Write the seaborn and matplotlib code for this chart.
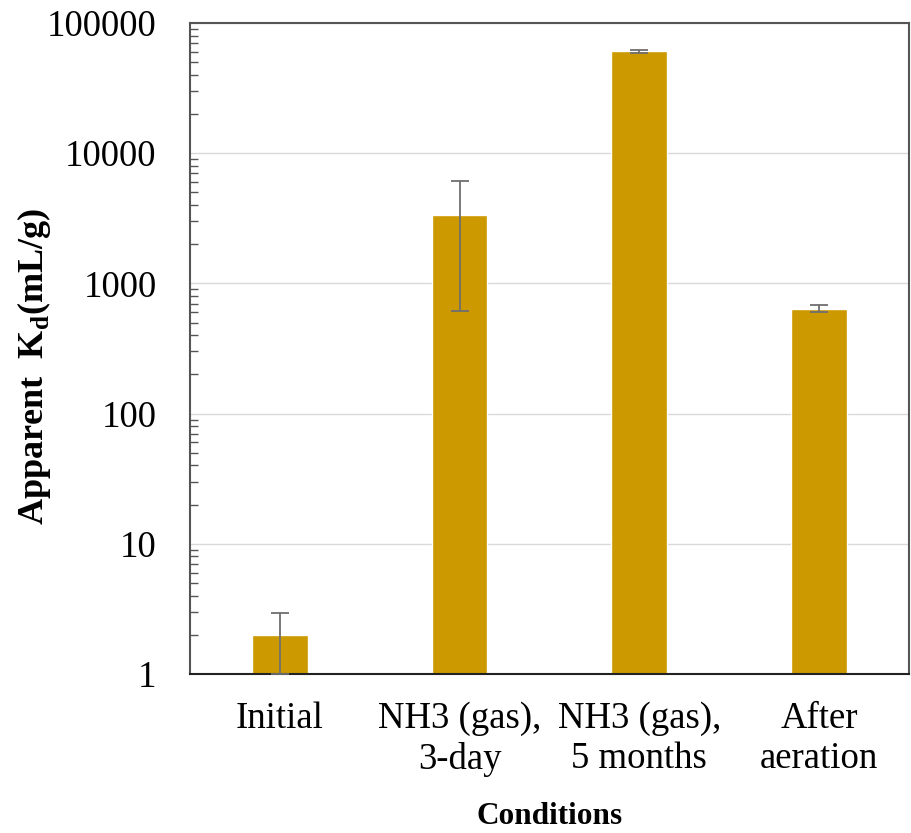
import matplotlib
matplotlib.use("Agg")
import matplotlib.pyplot as plt
import seaborn as sns
import pandas as pd
import numpy as np
from matplotlib.ticker import LogLocator, FixedLocator, FixedFormatter, NullFormatter

categories = ["Initial", "NH3 (gas),\n3-day", "NH3 (gas),\n5 months", "After\naeration"]
values = [2.0, 3350, 60500, 636]
err_low = [1.0, 614, 59000, 603]
err_high = [2.95, 6100, 62000, 683]

sns.set_theme(style="white")
plt.rcParams['font.family'] = ['Liberation Serif', 'DejaVu Serif']
plt.rcParams['text.color'] = 'black'
plt.rcParams['axes.labelcolor'] = 'black'
plt.rcParams['xtick.color'] = 'black'
plt.rcParams['ytick.color'] = 'black'

fig = plt.figure(figsize=(9.12, 8.33), dpi=100)
ax = fig.add_axes([0.2083, 0.1909, 0.7884, 0.7815])

df = pd.DataFrame({"cond": categories, "kd": values})
sns.barplot(data=df, x="cond", y="kd", color="#CC9900", saturation=1,
            width=0.31, ax=ax, errorbar=None, zorder=2)
ax.set_yscale("log")
ax.set_ylim(1, 100000)
ax.set_xlim(-0.5, 3.5)

yerr = np.array([np.array(values) - np.array(err_low), np.array(err_high) - np.array(values)])
ax.errorbar(np.arange(len(values)), values, yerr=yerr, fmt="none", ecolor="#6e6e6e",
            elinewidth=1.3, capsize=6.5, capthick=1.3, zorder=3)

ax.yaxis.set_major_locator(FixedLocator([1, 10, 100, 1000, 10000, 100000]))
ax.yaxis.set_major_formatter(FixedFormatter(["1", "10", "100", "1000", "10000", "100000"]))
ax.yaxis.set_minor_locator(LogLocator(base=10, subs=np.arange(2, 10)))
ax.yaxis.set_minor_formatter(NullFormatter())
ax.tick_params(axis="y", which="minor", direction="in", length=6, width=1, color="#555555", left=True)
ax.tick_params(axis="y", which="major", direction="in", length=0, labelsize=26.5, pad=24)
ax.tick_params(axis="x", length=0, labelsize=26.5, pad=20)
ax.grid(axis="y", which="major", color="#d9d9d9", linewidth=1, zorder=0)
ax.set_axisbelow(True)

for s in ax.spines.values():
    s.set_visible(True)
    s.set_color("#555555")
    s.set_linewidth(1.5)
ax.spines["bottom"].set_color("#222222")

ax.set_xlabel("Conditions", fontsize=22.5, fontweight="bold", labelpad=18)
ax.set_ylabel(r"Apparent  K$_\mathregular{d}$(mL/g)", fontsize=26, fontweight="bold")
ax.yaxis.set_label_coords(-0.19, 0.473)

fig.savefig("out.png", dpi=100)
